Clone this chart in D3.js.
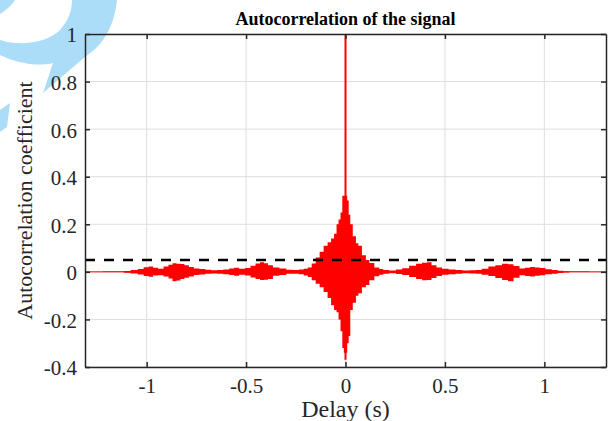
<!DOCTYPE html>
<html>
<head>
<meta charset="utf-8">
<script src="https://cdn.jsdelivr.net/npm/d3@7"></script>
<style>
  body { margin: 0; background: #fff; }
  svg { display: block; font-family: "Liberation Serif", "DejaVu Serif", serif; }
</style>
</head>
<body>
<svg id="chart"></svg>
<script>
// envelope of the autocorrelation: lag (s), upper, lower
var lags = [-1.31, -1.13, -1.10, -1.06, -1.03, -1.00, -0.98, -0.955, -0.93, -0.90, -0.88, -0.86, -0.84, -0.82, -0.80, -0.775, -0.75, -0.72, -0.69, -0.66, -0.63, -0.60, -0.57, -0.55, -0.52, -0.49, -0.465, -0.44, -0.42, -0.40, -0.38, -0.35, -0.315, -0.28, -0.25, -0.22, -0.20, -0.18, -0.16, -0.14, -0.12, -0.10, -0.08, -0.065, -0.05, -0.04, -0.03, -0.02, -0.012, -0.005, 0.005, 0.012, 0.02, 0.028, 0.045, 0.06, 0.07, 0.095, 0.11, 0.13, 0.16, 0.18, 0.20, 0.237, 0.27, 0.30, 0.34, 0.37, 0.40, 0.42, 0.445, 0.47, 0.50, 0.537, 0.57, 0.605, 0.64, 0.67, 0.70, 0.737, 0.77, 0.805, 0.83, 0.86, 0.89, 0.915, 0.94, 0.965, 0.99, 1.02, 1.055, 1.08, 1.11, 1.14, 1.31];
var upper = [0, 0.001, 0.004, 0.008, 0.012, 0.019, 0.022, 0.017, 0.013, 0.022, 0.030, 0.036, 0.034, 0.033, 0.028, 0.020, 0.014, 0.012, 0.009, 0.007, 0.008, 0.010, 0.014, 0.017, 0.013, 0.016, 0.026, 0.035, 0.040, 0.036, 0.028, 0.018, 0.014, 0.009, 0.008, 0.010, 0.013, 0.018, 0.035, 0.060, 0.085, 0.110, 0.125, 0.140, 0.160, 0.200, 0.220, 0.250, 0.320, 0.320, 0.320, 0.300, 0.240, 0.200, 0.150, 0.120, 0.110, 0.070, 0.050, 0.037, 0.018, 0.012, 0.008, 0.006, 0.010, 0.015, 0.026, 0.034, 0.038, 0.040, 0.028, 0.018, 0.013, 0.010, 0.008, 0.006, 0.007, 0.008, 0.013, 0.022, 0.028, 0.034, 0.032, 0.025, 0.014, 0.017, 0.020, 0.018, 0.016, 0.011, 0.008, 0.005, 0.003, 0.001, 0];
var lower = [0, -0.001, -0.004, -0.007, -0.011, -0.017, -0.021, -0.015, -0.014, -0.020, -0.028, -0.040, -0.036, -0.030, -0.025, -0.019, -0.013, -0.011, -0.008, -0.007, -0.008, -0.010, -0.013, -0.016, -0.012, -0.015, -0.024, -0.030, -0.034, -0.033, -0.030, -0.016, -0.013, -0.008, -0.008, -0.010, -0.015, -0.022, -0.035, -0.050, -0.065, -0.085, -0.110, -0.140, -0.160, -0.170, -0.200, -0.250, -0.320, -0.340, -0.340, -0.300, -0.270, -0.160, -0.130, -0.100, -0.090, -0.065, -0.055, -0.035, -0.018, -0.012, -0.008, -0.006, -0.009, -0.013, -0.022, -0.030, -0.035, -0.034, -0.026, -0.017, -0.012, -0.010, -0.008, -0.006, -0.007, -0.008, -0.012, -0.017, -0.026, -0.034, -0.040, -0.025, -0.014, -0.017, -0.020, -0.016, -0.014, -0.010, -0.008, -0.005, -0.003, -0.001, 0];

// zero-lag spike
var peakLag = 0, peakTop = 1, peakBottom = -0.37;

// detection threshold (dashed)
var threshold = 0.05;

var xTicks = [-1, -0.5, 0, 0.5, 1];
var xTickLabels = ["-1", "-0.5", "0", "0.5", "1"];
var yTicks = [-0.4, -0.2, 0, 0.2, 0.4, 0.6, 0.8, 1];
var yTickLabels = ["-0.4", "-0.2", "0", "0.2", "0.4", "0.6", "0.8", "1"];

var width = 608, height = 421;
var margin = {top: 34, right: 2, bottom: 54, left: 85};

var svg = d3.select("#chart")
    .attr("width", width)
    .attr("height", height);

// faint watermark in the corner
var mark = svg.append("g").attr("fill", "#abdcf8");
mark.append("path")
    .attr("d", "M72,0 L117,0 C114,28 102,46 86,56 L43,93 L53,63 C38,67 16,63 0,55 L0,40 C22,47 48,42 60,30 C68,21 72,11 72,0 Z");
mark.append("path")
    .attr("d", "M0,0 L15,0 C11,6 6,10 0,14 Z");
mark.append("path")
    .attr("d", "M0,110 L10,103 L7,127 L0,132 Z");

var x = d3.scaleLinear()
    .domain([-1.31, 1.31])
    .range([margin.left, width - margin.right]);

var y = d3.scaleLinear()
    .domain([-0.4, 1])
    .range([height - margin.bottom, margin.top]);

// grid
var grid = svg.append("g").attr("stroke", "#dedede").attr("stroke-width", 1);
grid.selectAll("line.v")
  .data(xTicks)
  .enter().append("line")
    .attr("class", "v")
    .attr("x1", function(d) { return x(d); })
    .attr("x2", function(d) { return x(d); })
    .attr("y1", y(1))
    .attr("y2", y(-0.4));
grid.selectAll("line.h")
  .data(yTicks)
  .enter().append("line")
    .attr("class", "h")
    .attr("x1", x.range()[0])
    .attr("x2", x.range()[1])
    .attr("y1", function(d) { return y(d); })
    .attr("y2", function(d) { return y(d); });

// signal
var env = lags.map(function(d, i) { return {lag: d, hi: upper[i], lo: lower[i]}; });

svg.append("line")
    .attr("x1", x.range()[0])
    .attr("x2", x.range()[1])
    .attr("y1", y(0))
    .attr("y2", y(0))
    .attr("stroke", "#ff0000")
    .attr("stroke-width", 1);

svg.append("path")
    .datum(env)
    .attr("fill", "#ff0000")
    .attr("d", d3.area()
        .curve(d3.curveStep)
        .x(function(d) { return x(d.lag); })
        .y0(function(d) { return y(d.lo); })
        .y1(function(d) { return y(d.hi); }));

svg.append("line")
    .attr("x1", x(peakLag))
    .attr("x2", x(peakLag))
    .attr("y1", y(peakBottom))
    .attr("y2", y(peakTop))
    .attr("stroke", "#ff0000")
    .attr("stroke-width", 2);

// threshold
svg.append("line")
    .attr("x1", x.range()[0])
    .attr("x2", x.range()[1])
    .attr("y1", y(threshold))
    .attr("y2", y(threshold))
    .attr("stroke", "#000")
    .attr("stroke-width", 2.5)
    .attr("stroke-dasharray", "10,9");

// axes box with inward ticks on all sides
var xAxisB = d3.axisBottom(x).tickValues(xTicks).tickSizeInner(-5).tickSizeOuter(0)
    .tickFormat(function(d, i) { return xTickLabels[i]; });
var xAxisT = d3.axisTop(x).tickValues(xTicks).tickSizeInner(-5).tickSizeOuter(0).tickFormat("");
var yAxisL = d3.axisLeft(y).tickValues(yTicks).tickSizeInner(-5).tickSizeOuter(0)
    .tickFormat(function(d, i) { return yTickLabels[i]; });
var yAxisR = d3.axisRight(y).tickValues(yTicks).tickSizeInner(-5).tickSizeOuter(0).tickFormat("");

function styleAxis(g) {
  g.select(".domain").attr("stroke", "#262626").attr("stroke-width", 1.5);
  g.selectAll(".tick line").attr("stroke", "#262626").attr("stroke-width", 1.5);
  g.selectAll(".tick text")
      .attr("fill", "#262626")
      .style("font-family", "Liberation Serif, serif")
      .style("font-size", "21px");
}

svg.append("g")
    .attr("transform", "translate(0," + y(-0.4) + ")")
    .call(xAxisB)
    .call(styleAxis)
    .selectAll(".tick text").attr("y", 11).attr("dy", "0.71em");
svg.append("g")
    .attr("transform", "translate(0," + y(1) + ")")
    .call(xAxisT)
    .call(styleAxis);
svg.append("g")
    .attr("transform", "translate(" + x.range()[0] + ",0)")
    .call(yAxisL)
    .call(styleAxis)
    .selectAll(".tick text").attr("x", -8).attr("dy", "0.38em");
svg.append("g")
    .attr("transform", "translate(" + x.range()[1] + ",0)")
    .call(yAxisR)
    .call(styleAxis);

// labels
svg.append("text")
    .attr("x", (x.range()[0] + x.range()[1]) / 2)
    .attr("y", 25)
    .attr("text-anchor", "middle")
    .attr("font-weight", "bold")
    .attr("font-size", 18)
    .attr("fill", "#000")
    .text("Autocorrelation of the signal");

svg.append("text")
    .attr("x", (x.range()[0] + x.range()[1]) / 2)
    .attr("y", 417)
    .attr("text-anchor", "middle")
    .attr("font-size", 24)
    .attr("fill", "#262626")
    .text("Delay (s)");

svg.append("text")
    .attr("transform", "translate(32," + (y(1) + y(-0.4)) / 2 + ") rotate(-90)")
    .attr("text-anchor", "middle")
    .attr("font-size", 22)
    .attr("fill", "#262626")
    .text("Autocorrelation coefficient");
</script>
</body>
</html>
